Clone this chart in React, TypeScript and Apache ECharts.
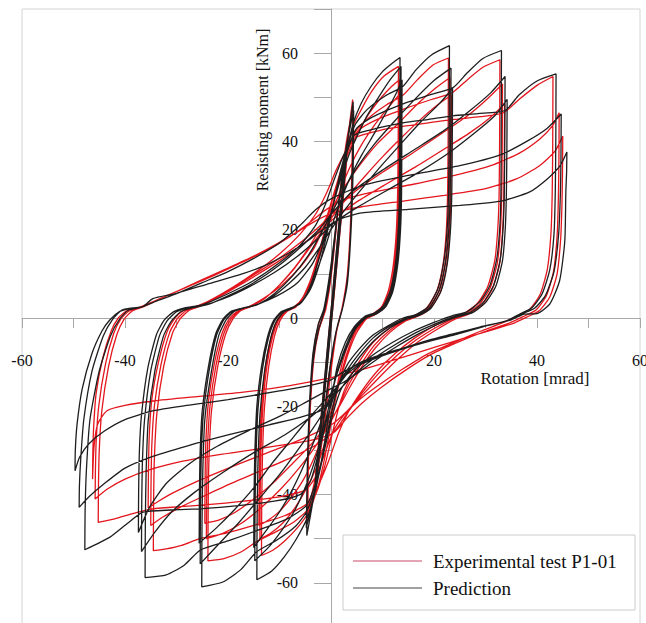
import React, { useEffect, useRef } from 'react';
import * as echarts from 'echarts';

// Axis ticks / labels
const xTicks = [-60, -40, -20, 20, 40, 60];
const yTicks = [-60, -40, -20, 0, 20, 40, 60];
const xTitle = 'Rotation [mrad]';
const yTitle = 'Resisting moment [kNm]';
const seriesNames = ['Experimental test P1-01', 'Prediction'];

// ---------- Prediction (black) ----------
const bkInit = [
  [0,0],[0.8,10],[1.6,21],[2.2,29],[1.5,19],[0.6,7],[-0.4,-5],[-1.3,-17],[-2.2,-29],[-1.5,-19],[-0.6,-7],[0.5,8],[1.5,21],[2.6,34],[3.3,41],[2.6,31],[1.6,18],[0.4,3],[-0.8,-12],[-2,-26],[-3.2,-39],[-2.5,-30],[-1.5,-17],[-0.4,-3],
];
const bkL1 = [
  [0.8,11],[2,27],[3.2,40],[4.3,49],[4.2,36],[3.9,22],[3.3,10],[2.4,3],[1.2,-2],[0,-10],[-1.5,-24],[-3,-38],[-4.7,-49.3],[-4.6,-36],[-4.2,-22],[-3.5,-10],[-2.5,-3],[-1.2,2],[0,10],[1.5,26],[3,39],[4.4,47],[4.3,34],[3.9,20],[3.2,8],[2.2,2],[1,-3],[-0.3,-12],[-1.8,-27],[-3.3,-40],[-4.8,-47.5],[-4.6,-34],[-4.2,-20],[-3.5,-8],[-2.5,-1.5],[-1.4,2],
];
const bkL2 = [
  [0,12],[1.5,26],[3,37],[4.3,44],[5.8,48.5],[7.8,52.5],[10,55.8],[12,57.8],[13.4,59],
  [13.35,42],[13.3,29],[13.1,21],[12.6,13],[11.6,6.5],[10.2,2.8],[8.5,1.2],[6.5,0.3],
  [4.5,-2],[2.8,-5.5],[1.2,-11],[0,-19],[-1.5,-30],[-3,-39],[-4.7,-45.5],[-6.7,-50],[-9,-54],[-11.5,-57.3],[-14.4,-59.3],
  [-14.35,-46],[-14.2,-34],[-13.8,-22],[-12.9,-12],[-11.8,-5],[-10.7,-1],[-9.2,1.3],[-7.5,2.2],
  [-5.5,4],[-3.8,8],[-2.2,14],[-0.8,20],[0.5,26],[2,32],[3.5,37],[5,41],[7,45.8],[9.5,50.5],[11.5,54],[13.6,57],
  [13.55,41],[13.5,29],[13.3,21],[12.8,13],[11.8,6.2],[10.4,2.6],[8.7,1.1],[6.7,0.2],
  [4.7,-2.2],[3,-6],[1.5,-11],[0.2,-17],[-1.2,-24],[-2.8,-31],[-4.7,-37.5],[-7,-43.5],[-9.5,-48],[-12,-51.8],[-14.8,-55],
  [-14.75,-43],[-14.6,-33],[-14.2,-21],[-13.3,-11.5],[-12.2,-4.8],[-11,-0.8],[-9.5,1.4],[-7.8,2.2],
  [-5.8,3.6],[-4,7],[-2.5,11.5],[-1,16.5],[0.5,22],[2.2,27.5],[4,32.5],[6,37],[8.5,42],[10.8,46.8],[12.5,50.5],[13.8,54],
  [13.75,40],[13.7,28],[13.5,20],[13,12.5],[12,6],[10.6,2.5],[8.9,1],[6.9,0.1],
  [4.8,-2.4],[3.1,-6.5],[1.5,-11.5],[0,-17],[-1.6,-22.5],[-3.5,-28.5],[-5.7,-34.5],[-8,-40],[-10.5,-44.8],[-13,-48.8],[-15,-52],
  [-14.95,-41],[-14.8,-31],[-14.4,-20],[-13.5,-11],[-12.4,-4.6],[-11.2,-0.7],[-9.7,1.4],[-8,2.2],
];
const bkL3 = [
  [-6,3.2],[-4,6.5],[-2.3,12],[-1,18],[0.5,26],[2,34],[3.5,40],[4.8,44],[7,47.2],[10.5,50.3],[14,52.5],[16.5,56.2],[19.5,59.6],[23,61.7],
  [22.95,44],[22.85,30],[22.6,21],[22,13.5],[20.8,6.8],[18.8,2.5],[16.5,0.8],[14,0],
  [11,-1.8],[8,-4],[5.5,-7],[3.2,-10.5],[1.5,-15],[0,-22],[-1.5,-31],[-3,-38.5],[-4.8,-44],[-7,-47.3],[-10.5,-50.3],[-14.5,-53],[-17.5,-57],[-21,-59.8],[-25.1,-60.9],
  [-25.05,-47],[-24.9,-35],[-24.5,-23],[-23.2,-12],[-21.8,-4],[-20.4,-0.5],[-18.8,1.5],[-16.8,2.3],
  [-14,3.2],[-11,5.5],[-7.5,9.5],[-4.5,14],[-2,19],[0,23.5],[2.5,29],[5,34],[8.5,39.5],[12.5,44.8],[16.5,49.8],[20,53.8],[23.3,56.6],
  [23.25,42],[23.15,29],[22.9,20.5],[22.3,13],[21.1,6.5],[19.1,2.3],[16.8,0.7],[14.3,-0.2],
  [11.2,-2],[8.2,-4.5],[5.5,-8],[3,-12],[1,-16],[-1,-20.5],[-3.5,-25],[-6.5,-30],[-10,-35.5],[-14,-41],[-18,-46.5],[-21.8,-51.2],[-25.4,-55.7],
  [-25.35,-43],[-25.2,-32],[-24.8,-22],[-23.6,-11.5],[-22.2,-3.8],[-20.8,-0.4],[-19.2,1.5],[-17.2,2.2],
  [-14.5,2.9],[-11.5,4.7],[-8,8],[-5,11.5],[-2.5,15.5],[0,20],[3,25],[6.5,30],[10,34.8],[14,40],[17.5,44.5],[21,48.5],[23.6,52],
  [23.55,40],[23.45,28],[23.2,20],[22.6,12.5],[21.4,6.2],[19.4,2.2],[17.1,0.6],[14.6,-0.3],
  [11.5,-2.2],[8.5,-5],[5.8,-8.5],[3.2,-12.5],[1,-15.8],[-1.5,-19],[-4.5,-23],[-8,-28],[-11.5,-33],[-15,-38.5],[-18.8,-43.5],[-22.3,-47.6],[-25.6,-51],
  [-25.55,-40],[-25.4,-30],[-25,-21],[-23.8,-11],[-22.4,-3.6],[-21,-0.3],[-19.4,1.5],[-17.4,2.2],
];
const bkL4 = [
  [-14.5,3],[-10.5,5],[-6.5,8],[-3.5,12.5],[-1.5,18],[0.3,25],[2,33],[3.5,39],[5,43],[8,45.5],[13.5,48.3],[19,50.5],[23.7,52.2],[26.5,55.6],[29.5,58.8],[33.1,60.6],
  [33.05,43],[33,28.7],[32.8,21],[32.2,13.5],[30.9,7.5],[28.9,3.7],[26.4,1.4],[23.5,0.5],
  [20,-1],[16,-3],[12,-5.5],[8,-8.5],[4.5,-12],[2,-16],[0.3,-22],[-1.3,-30],[-3,-37.5],[-4.8,-42.5],[-8.5,-45.5],[-14.5,-48.2],[-20,-50.5],[-25.3,-52.5],[-28.5,-56],[-32,-58.2],[-36.1,-58.8],
  [-36.05,-46],[-35.9,-35],[-35.5,-23.3],[-34.2,-12],[-32.5,-4],[-31,-0.7],[-29.2,1.4],[-27,2.3],
  [-24,3],[-20,5],[-15,8],[-10,12],[-5.5,16.5],[-2,20.5],[0,23.5],[4,28.5],[10,33.5],[16,38],[22,42.5],[27,47],[31,51],[33.8,54.7],
  [33.75,41],[33.65,28.5],[33.45,21],[32.9,13.5],[31.6,7.5],[29.6,3.6],[27.1,1.3],[24.2,0.4],
  [20.5,-1.2],[16.5,-3.3],[12.5,-6],[8.5,-9],[5,-12.3],[2,-15.8],[-0.5,-19],[-4,-22.5],[-9,-26.5],[-15,-30.5],[-21,-35],[-26.5,-39.5],[-31,-44],[-34.2,-48.5],[-36.8,-52.9],
  [-36.75,-42],[-36.6,-32],[-36.2,-23],[-35,-12],[-33.3,-4],[-31.8,-0.6],[-30,1.4],[-27.8,2.3],
  [-25,2.8],[-21,4.3],[-16,7],[-11,10.3],[-6.5,14],[-3,17.5],[0,21],[5,25],[11,29],[17,33],[23,37.5],[28,42],[31.8,45.8],[34.2,49.5],
  [34.15,38],[34.05,28],[33.85,20.5],[33.3,13],[32,7.2],[30,3.5],[27.5,1.2],[24.6,0.3],
  [21,-1.3],[17,-3.6],[13,-6.3],[9,-9.3],[5.5,-12.2],[2.5,-14.5],[0,-16],[-4,-18.5],[-9.5,-22],[-16,-25.5],[-22,-29],[-27.5,-33],[-32,-37.5],[-35.3,-43],[-37.4,-48.6],
  [-37.35,-39],[-37.2,-30],[-36.8,-22],[-35.6,-11.5],[-33.9,-3.8],[-32.4,-0.5],[-30.6,1.4],[-28.4,2.3],
];
const bkL5 = [
  [-25,3],[-20,5.5],[-15,8.5],[-10,12.5],[-6,16.5],[-3,21],[-1,26],[0.5,31],[2.5,37],[4.6,41.5],[9,43],[14,44.2],[19,45],[23.7,45.8],[28.5,46.3],[33.8,47],[36.5,50.5],[40,53.7],[43.7,55.3],
  [43.65,40],[43.55,28.5],[43.3,19],[42.5,11],[41,5.5],[39,2.3],[36.5,0.8],[34,-0.7],
  [29,-2],[23.7,-3.6],[19,-5],[14,-6.8],[9,-8.6],[5,-10.5],[2.5,-13],[0.8,-17],[-1,-24],[-2.5,-31],[-4,-37],[-6,-40],[-11,-41.5],[-18,-42.5],[-25,-43.2],[-31,-43.5],[-36.5,-44],[-39.5,-46.5],[-43,-49.7],[-47.8,-52.5],
  [-47.75,-44],[-47.5,-34.6],[-46.8,-23],[-45,-12],[-42.8,-4],[-41,-0.2],[-39.3,1.8],[-37,2.4],
  [-34.6,3.5],[-30,5.5],[-25,8],[-20,10.5],[-15,13.5],[-10,17],[-6,21],[-3,24.5],[0,27],[6,30],[15,32.3],[25,34.5],[33,37],[38,40],[42,43],[44.7,46.2],
  [44.65,36],[44.55,28.5],[44.2,19],[43.3,10.5],[41.6,5],[39.5,2.2],[37,0.9],[34.5,-0.5],
  [29.5,-2],[24,-3.8],[19,-5.3],[14,-7],[9,-9],[5,-11],[2,-14],[0,-19],[-2,-21],[-6,-22.5],[-12,-24.2],[-20,-26.5],[-28,-29],[-35,-31.5],[-40,-34],[-44,-37.5],[-47,-40.5],[-48.9,-42.9],
  [-48.85,-38],[-48.6,-32],[-48,-23],[-46.4,-12],[-44.2,-4],[-42.4,-0.3],[-40.6,1.8],[-38.5,2.3],
  [-36.5,2.6],[-34.6,4.4],[-30,5.6],[-24,7.7],[-18,9.7],[-13,11.8],[-8.5,14.5],[-4.5,17.5],[-1,20.5],[2,22.5],[6,23.8],[15,24.6],[25,25.5],[33,26.5],[38.5,28.5],[42,31.5],[44.5,34.5],[45.8,37.6],
  [45.75,33],[45.6,28.7],[45.4,17.5],[44.4,8.5],[42.5,3.2],[40,1],[37.5,0.9],[35,-0.4],
  [30,-1.8],[24,-3.6],[19,-5.2],[14,-6.9],[9,-8.8],[5,-10.6],[2,-12.5],[0,-14],[-5,-15.5],[-10,-16.5],[-20,-18.5],[-28,-19.8],[-34.5,-21],[-40,-23],[-44,-25.6],[-47,-28.5],[-48.8,-31.5],[-49.7,-34.6],
  [-49.65,-30],[-49.3,-24],[-48.3,-16],[-46.4,-8],[-44.5,-3],[-43,-0.5],[-41,1.5],[-39,2.2],
];

// ---------- Experimental test P1-01 (red) ----------
const rdInit = [
  [0,0],[0.7,9],[1.5,20],[2.1,28],[1.4,18],[0.5,6],[-0.5,-6],[-1.4,-18],[-2.1,-27],[-1.4,-17],[-0.5,-5],[0.6,9],[1.7,23],[2.8,35],[3.4,41],[2.7,31],[1.7,19],[0.5,4],[-0.8,-11],[-2,-25],[-3,-36],[-2.3,-27],[-1.3,-15],[-0.3,-2],
];
const rdL1 = [
  [0.9,12],[2.1,28],[3.2,40],[4.2,49.5],[4.1,36],[3.8,22],[3.2,10],[2.3,3],[1.1,-3],[0,-12],[-1.4,-25],[-2.9,-37],[-4.5,-46],[-4.4,-33],[-4,-20],[-3.3,-9],[-2.3,-2.5],[-1,2],[0.2,11],[1.6,27],[3,40],[4.3,48],[4.2,35],[3.8,21],[3.1,9],[2.1,2],[0.9,-4],[-0.4,-13],[-1.8,-26],[-3.2,-37],[-4.6,-44],[-4.4,-31],[-4,-18],[-3.3,-7],[-2.3,-1],[-1.2,2],
];
const rdL2 = [
  [0.2,13],[1.6,27],[3,37.5],[4.3,43.5],[6,47.5],[8,51.5],[10.3,54.8],[13.1,57],
  [13.05,41],[12.95,29],[12.7,20],[12.1,12],[11.1,6],[9.8,2.5],[8.2,1],[6.4,0],
  [4.6,-2.8],[3,-7],[1.6,-13],[0.3,-22],[-1.1,-31],[-2.6,-38.5],[-4.4,-44],[-6.5,-47.5],[-9,-50.5],[-11.3,-52.6],[-13.5,-53.8],
  [-13.45,-42],[-13.3,-31],[-12.9,-20],[-12.1,-11],[-11,-4.2],[-9.9,-0.6],[-8.5,1.5],[-6.8,2.5],
  [-5.2,5],[-3.7,9.5],[-2.3,15],[-1,21],[0.3,27],[1.8,32.5],[3.4,37.5],[5.2,42],[7.5,46.5],[9.8,50],[11.8,52.5],[13.3,54],
  [13.25,39],[13.15,28],[12.9,19.5],[12.3,11.5],[11.3,5.7],[10,2.4],[8.4,0.9],[6.6,-0.2],
  [4.7,-3.2],[3.1,-8],[1.7,-14],[0.4,-21],[-1,-27.5],[-2.7,-33.5],[-4.7,-38.5],[-7,-43],[-9.4,-46.5],[-11.8,-48.8],[-13.8,-50],
  [-13.75,-40],[-13.6,-30],[-13.2,-19.5],[-12.4,-10.5],[-11.3,-4],[-10.2,-0.5],[-8.8,1.5],[-7.1,2.4],
  [-5.5,4.6],[-4,8.5],[-2.6,13],[-1.2,18.5],[0.3,24],[2,29.5],[3.8,34.5],[5.8,39],[8.2,43.3],[10.5,46.8],[12.3,49.3],[13.5,51],
  [13.45,38],[13.35,27],[13.1,19],[12.5,11],[11.5,5.4],[10.2,2.2],[8.6,0.8],[6.8,-0.3],
  [4.9,-3.5],[3.2,-8.5],[1.7,-14.5],[0.2,-20.5],[-1.4,-26],[-3.2,-31.5],[-5.3,-36.5],[-7.6,-40.5],[-10,-43.8],[-12.2,-45.8],[-14,-47],
  [-13.95,-38],[-13.8,-28],[-13.4,-18.5],[-12.6,-10],[-11.5,-3.8],[-10.4,-0.4],[-9,1.5],[-7.3,2.4],
];
const rdL3 = [
  [-5.5,4.5],[-3.8,8.5],[-2.2,14],[-0.8,20],[0.6,27],[2,33.5],[3.5,39],[4.9,42.5],[7.5,45.5],[10.8,48.3],[14,50.5],[16.8,54],[19.8,57.3],[22.8,58.9],
  [22.75,42],[22.65,29],[22.4,20],[21.8,12.5],[20.6,6.3],[18.6,2.3],[16.3,0.6],[13.8,-0.4],
  [11,-2.6],[8.2,-5.5],[5.7,-9.5],[3.5,-14],[1.8,-19],[0.3,-26],[-1.2,-33.5],[-2.8,-39.5],[-4.6,-43.5],[-7.2,-46.2],[-10.8,-48.5],[-14.2,-50.5],[-17.5,-53],[-20.8,-54.5],[-23.9,-55],
  [-23.85,-43],[-23.7,-32],[-23.2,-21],[-22,-11],[-20.5,-3.8],[-19.1,-0.3],[-17.5,1.7],[-15.5,2.6],
  [-12.8,4.5],[-10,7.5],[-7,11.5],[-4.3,16],[-2,20.5],[0.2,25],[2.8,30],[5.5,34.5],[9,39.5],[13,44],[16.8,48.5],[20.2,52],[23.1,54.5],
  [23.05,40],[22.95,28],[22.7,19.5],[22.1,12],[20.9,6],[18.9,2.2],[16.6,0.5],[14.1,-0.6],
  [11.2,-3],[8.4,-6.2],[5.8,-10.5],[3.5,-15],[1.5,-20],[-0.5,-24.5],[-3,-29],[-6.2,-34],[-9.8,-38.8],[-13.6,-43],[-17.4,-46.5],[-21,-48.8],[-24.2,-50],
  [-24.15,-40],[-24,-30],[-23.5,-20],[-22.3,-10.5],[-20.8,-3.5],[-19.4,-0.2],[-17.8,1.6],[-15.8,2.5],
  [-13.2,4.2],[-10.4,7],[-7.4,10.8],[-4.7,15],[-2.2,19],[0.3,23],[3.2,27.5],[6.5,32],[10,36.5],[13.8,41],[17.4,45],[20.6,48.2],[23.4,50.5],
  [23.35,38],[23.25,27],[23,19],[22.4,11.5],[21.2,5.8],[19.2,2.1],[16.9,0.4],[14.4,-0.7],
  [11.5,-3.2],[8.6,-6.8],[6,-11],[3.6,-15.8],[1.4,-20.5],[-1,-24.5],[-4,-28.8],[-7.5,-33],[-11.2,-37.3],[-15,-41],[-18.6,-44],[-21.8,-45.8],[-24.5,-46.5],
  [-24.45,-37],[-24.3,-28],[-23.8,-19],[-22.6,-10],[-21.1,-3.3],[-19.7,-0.1],[-18.1,1.6],[-16.1,2.5],
];
const rdL4 = [
  [-13,4.5],[-9.5,7.5],[-6,11.5],[-3.2,16],[-1.2,21.5],[0.5,28],[2.2,34.5],[3.8,39.5],[5.3,42.5],[9,45],[14.5,47.5],[19.5,49.5],[23.5,51],[26.5,54],[29.5,56.8],[32.8,58.5],
  [32.75,42],[32.65,28.5],[32.4,20.5],[31.8,13],[30.4,7],[28.4,3.3],[25.9,1.1],[23.2,0],
  [20,-1.8],[16.3,-4.5],[12.5,-8],[9,-12],[6,-16.5],[3.5,-21],[1.5,-26],[-0.5,-32.5],[-2.5,-38],[-4.6,-42],[-9,-44.8],[-15,-47],[-20.5,-48.8],[-25.5,-50],[-29,-51.5],[-32,-52.3],[-34.5,-52.7],
  [-34.45,-42],[-34.3,-32],[-33.8,-21.5],[-32.5,-11],[-30.8,-3.5],[-29.3,-0.2],[-27.6,1.7],[-25.5,2.6],
  [-22.5,4.3],[-18.5,7.2],[-14,10.5],[-9.5,14],[-5.5,17.5],[-2,21],[0.5,24],[4.5,28.5],[10,33],[16,37.5],[21.5,41.8],[26.5,45.8],[30.5,49.8],[33.3,53],
  [33.25,39],[33.15,28],[32.9,20],[32.3,12.5],[30.9,6.8],[28.9,3.2],[26.4,1],[23.6,-0.2],
  [20.3,-2.2],[16.5,-5],[12.7,-8.6],[9.2,-12.6],[6,-17],[3.2,-21.5],[0.8,-25.5],[-2.5,-28.5],[-7.5,-31.5],[-13.5,-34.5],[-19.5,-37.5],[-25,-40.5],[-29.5,-43],[-32.8,-45.2],[-35,-47],
  [-34.95,-38],[-34.8,-29],[-34.3,-20],[-33,-10.5],[-31.3,-3.2],[-29.8,-0.1],[-28.1,1.7],[-26,2.5],
  [-23,4],[-19,6.6],[-14.5,9.7],[-10,13],[-6,16.3],[-2.5,19.5],[0.5,22.5],[5,26.3],[10.5,30.2],[16.5,34.3],[22,38.3],[27,42],[31,45.5],[33.7,48.5],
  [33.65,37],[33.55,27],[33.3,19.5],[32.7,12],[31.3,6.5],[29.3,3],[26.8,0.9],[24,-0.3],
  [20.7,-2.5],[16.8,-5.5],[13,-9.3],[9.5,-13.3],[6.2,-17.3],[3.2,-21],[0.3,-24],[-3.5,-26.3],[-8.5,-28.8],[-14.5,-31.5],[-20.5,-34.3],[-26,-37],[-30.5,-39.5],[-33.5,-41.5],[-35.5,-43],
  [-35.45,-35],[-35.3,-27],[-34.8,-18.5],[-33.5,-10],[-31.8,-3],[-30.3,0],[-28.6,1.7],[-26.5,2.5],
];
const rdL5 = [
  [-23.5,4],[-19,7],[-14.5,10.5],[-10,14.5],[-6,19],[-3,23.5],[-0.8,28.5],[1,33.5],[3,38],[5,41],[9.5,42.5],[14.5,43.5],[19.5,44.3],[24,45],[29,45.6],[33.5,46.5],[36.5,49.5],[40,52.7],[43.1,54.7],
  [43.05,39],[42.95,28],[42.7,19],[42,11],[40.6,5.3],[38.6,2],[36.1,0.4],[33.5,-1],
  [29,-3],[24.5,-5.2],[19,-8],[14,-11.5],[9.5,-15],[5.5,-18.5],[2.5,-22],[0.5,-25.5],[-1.3,-31],[-3,-36],[-5,-39],[-10,-40.5],[-17,-41.5],[-24,-42.3],[-30,-42.8],[-35,-43.3],[-38.5,-44.3],[-42,-45.5],[-45.2,-46.3],
  [-45.15,-38],[-45,-30],[-44.5,-21],[-43.2,-11],[-41.6,-3.8],[-40.2,-0.3],[-38.6,1.6],[-36.5,2.5],
  [-33,4.5],[-28,7],[-23,9.5],[-18,12.2],[-13,15],[-8.5,18],[-4.5,21.3],[-1,24.5],[2.5,26.8],[8,28.5],[16,30.3],[24,32.3],[31,34.5],[36.5,37.3],[40.5,40.5],[43,43.5],[44.3,46.5],
  [44.25,35],[44.15,27],[43.9,18.5],[43.2,10.5],[41.8,5],[39.8,1.8],[37.3,0.3],[34.7,-1.1],
  [30,-3],[25,-5.3],[19.5,-8.2],[14.5,-11.8],[10,-15.5],[6,-19.3],[3,-22.8],[0.5,-26],[-3,-27.5],[-8,-28.5],[-15,-29.8],[-22,-31],[-29,-32.5],[-35,-34.3],[-40,-36.5],[-43.5,-38.8],[-45.8,-41],
  [-45.75,-35],[-45.6,-28],[-45.1,-20],[-43.8,-10.5],[-42.2,-3.5],[-40.8,-0.2],[-39.2,1.6],[-37,2.5],
  [-34.5,3.7],[-30,6],[-25,8.7],[-20,11.3],[-15,14],[-10.5,16.8],[-6.5,19.5],[-3,22],[0.5,23.8],[6,25.2],[14,26.5],[22,27.8],[30,29.3],[36,31.5],[40.5,34.5],[43.5,37.8],[45,41.2],
  [44.95,33],[44.85,26],[44.6,18],[43.9,10],[42.5,4.8],[40.5,1.7],[38,0.2],[35.4,-1.2],
  [31,-2.8],[26,-4.5],[20.5,-6.5],[15,-8.5],[9.5,-10.5],[5,-12],[1.5,-13],[0,-13.5],[-8,-15.3],[-17,-16.8],[-26,-17.8],[-34.5,-18.8],[-40,-19.8],[-43.5,-21],[-45.3,-24],[-46,-29],[-46.3,-36.5],
  [-46.25,-31],[-46.1,-25],[-45.6,-17],[-44.3,-9],[-42.7,-3],[-41.3,0],[-39.7,1.6],[-37.5,2.3],
];

const RED = '#e3161d';
const BLACK = '#1e1e1e';
const FONT = "'Liberation Serif', 'Times New Roman', serif";

export default function App() {
  const ref = useRef<HTMLDivElement>(null);
  useEffect(() => {
    if (!ref.current) return;
    const chart = echarts.init(ref.current, null, { renderer: 'svg' });
    const expData = [...rdInit, ...rdL1, ...rdL2, ...rdL3, ...rdL4, ...rdL5];
    const predData = [...bkInit, ...bkL1, ...bkL2, ...bkL3, ...bkL4, ...bkL5];
    chart.setOption({
      animation: false,
      backgroundColor: '#ffffff',
      grid: {
        left: 22, top: 9, width: 618, height: 618, show: true,
        borderColor: '#d4d4d4', borderWidth: 1, containLabel: false, outerBoundsMode: 'none',
      },
      xAxis: {
        type: 'value', min: -60, max: 60, interval: 10, position: 'bottom', offset: -309,
        axisLine: { onZero: false, lineStyle: { color: '#a8a8a8', width: 1 } },
        axisTick: { show: true, length: 10, lineStyle: { color: '#a8a8a8' } },
        splitLine: { show: false },
        axisLabel: {
          margin: 34, color: '#111', fontFamily: FONT, fontSize: 16,
          showMinLabel: true, showMaxLabel: true, hideOverlap: false,
          formatter: (v: number) => (xTicks.indexOf(v) >= 0 ? String(v) : ''),
        },
      },
      yAxis: {
        type: 'value', min: -70, max: 70, interval: 10, position: 'left', offset: -309,
        axisLine: { onZero: false, lineStyle: { color: '#a8a8a8', width: 1 } },
        axisTick: { show: true, length: 17, lineStyle: { color: '#a8a8a8' } },
        splitLine: { show: false },
        axisLabel: {
          margin: 33, color: '#111', fontFamily: FONT, fontSize: 16, hideOverlap: false,
          formatter: (v: number) => (yTicks.indexOf(v) >= 0 ? String(v) : ''),
        },
      },
      series: [
        {
          name: seriesNames[0], type: 'line', data: expData, showSymbol: false, symbol: 'none',
          smooth: 0.2, lineStyle: { color: RED, width: 1.3 }, z: 2,
        },
        {
          name: seriesNames[1], type: 'line', data: predData, showSymbol: false, symbol: 'none',
          smooth: 0.2, lineStyle: { color: BLACK, width: 1.3 }, z: 3,
        },
      ],
      graphic: [
        { type: 'text', x: 535, y: 378, z: 10, style: { text: xTitle, fontFamily: FONT, fontSize: 17, fill: '#111', textAlign: 'center', textVerticalAlign: 'middle' } },
        { type: 'text', x: 262, y: 110, rotation: Math.PI / 2, z: 10, style: { text: yTitle, fontFamily: FONT, fontSize: 16, fill: '#111', textAlign: 'center', textVerticalAlign: 'middle' } },
        { type: 'rect', z: 20, shape: { x: 343, y: 535, width: 292, height: 75 }, style: { fill: '#ffffff', stroke: '#cccccc', lineWidth: 1 } },
        { type: 'line', z: 21, shape: { x1: 353, y1: 561, x2: 422, y2: 561 }, style: { stroke: '#c94a6e', lineWidth: 1.2 } },
        { type: 'line', z: 21, shape: { x1: 353, y1: 588, x2: 422, y2: 588 }, style: { stroke: '#444444', lineWidth: 1.2 } },
        { type: 'text', z: 21, x: 433, y: 561, style: { text: seriesNames[0], fontFamily: FONT, fontSize: 19, fill: '#111', textAlign: 'left', textVerticalAlign: 'middle' } },
        { type: 'text', z: 21, x: 433, y: 588, style: { text: seriesNames[1], fontFamily: FONT, fontSize: 19, fill: '#111', textAlign: 'left', textVerticalAlign: 'middle' } },
      ],
    });
    return () => chart.dispose();
  }, []);
  return <div ref={ref} style={{ position: 'fixed', left: 0, top: 0, width: 646, height: 623, background: '#fff' }} />;
}
